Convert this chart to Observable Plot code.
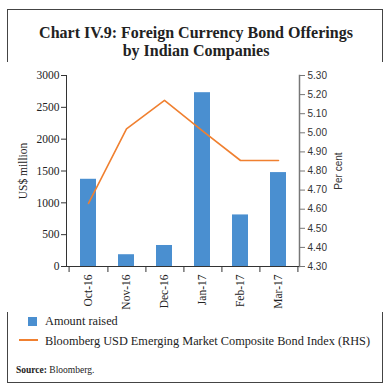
<!DOCTYPE html>
<html><head><meta charset="utf-8">
<script src="https://cdn.jsdelivr.net/npm/d3@7"></script>
<script src="https://cdn.jsdelivr.net/npm/@observablehq/plot@0.6"></script>
<style>
html,body{margin:0;padding:0;background:#fff;}
#wrap{position:relative;width:392px;height:389px;overflow:hidden;font-family:"Liberation Serif",serif;color:#222;}
#frame{position:absolute;left:7px;top:9px;width:374px;height:372px;border:1px solid #444;}
#title{position:absolute;left:0;top:24px;width:392px;text-align:center;font-weight:bold;font-size:16px;line-height:18px;color:#222;}
#chart{position:absolute;left:0;top:62px;}
.leg{position:absolute;font-size:12.3px;color:#222;white-space:nowrap;}
#source{position:absolute;left:16px;top:365px;font-size:9.5px;color:#222;}
</style></head>
<body><div id="wrap">
<div id="frame"></div>
<div id="title">Chart IV.9: Foreign Currency Bond Offerings<br>by Indian Companies</div>
<div id="chart"></div>
<div class="leg" style="left:28px;top:314px;"><span style="display:inline-block;width:9px;height:9px;background:#4a8fd0;vertical-align:-1px;margin-right:8px;"></span>Amount raised</div>
<div class="leg" style="left:19px;top:334px;"><span style="display:inline-block;width:19px;height:2px;background:#f08030;vertical-align:4px;margin-right:7px;"></span>Bloomberg USD Emerging Market Composite Bond Index (RHS)</div>
<div id="source"><b>Source:</b> Bloomberg.</div>
</div>
<script>
const months = ["Oct-16","Nov-16","Dec-16","Jan-17","Feb-17","Mar-17"];
const amountRaised = [1370, 185, 330, 2730, 810, 1475];
const bondIndex = [4.63, 5.02, 5.17, 5.01, 4.855, 4.855];
const leftTicks = [0,500,1000,1500,2000,2500,3000];
const rightTicks = [4.30,4.40,4.50,4.60,4.70,4.80,4.90,5.00,5.10,5.20,5.30];
const rightMin = 4.30, rightMax = 5.30, leftMax = 3000;

const toLeft = v => (v - rightMin) / (rightMax - rightMin) * leftMax;
const barData = months.map((m,i)=>({m, v: amountRaised[i]}));
const lineData = months.map((m,i)=>({m, v: toLeft(bondIndex[i])}));

const W = 392, H = 250, mL = 66, mR = 93, mT = 13, mB = 46;
const step = (W - mL - mR) / months.length;

const chart = Plot.plot({
  width: W, height: H,
  marginLeft: mL, marginRight: mR, marginTop: mT, marginBottom: mB,
  style: {fontFamily: "Liberation Serif, serif", fontSize: "11.5px", color: "#222", background: "#fff"},
  x: {domain: months, paddingInner: 0.58, paddingOuter: 0.29, axis: null},
  y: {domain: [0, leftMax], axis: null},
  marks: [
    Plot.barY(barData, {x: "m", y: "v", fill: "#4a8fd0"}),
    Plot.line(lineData, {x: "m", y: "v", stroke: "#f08030", strokeWidth: 1.6}),
    Plot.axisY(leftTicks, {anchor: "left", tickSize: 5, tickPadding: 2, stroke: "#333",
      tickFormat: d3.format("d"),
      label: "US$ million", labelAnchor: "center", labelArrow: "none", labelOffset: 48,
      fontSize: 11.5}),
    Plot.axisY(rightTicks.map(toLeft), {anchor: "right", tickSize: 5, tickPadding: 3, stroke: "#777",
      tickFormat: d => (d / leftMax * (rightMax - rightMin) + rightMin).toFixed(2),
      fontFamily: "Liberation Sans, sans-serif", fontSize: 10, fill: "#333",
      label: "Per cent", labelAnchor: "center", labelArrow: "none", labelOffset: 42}),
    Plot.axisX(months, {anchor: "bottom", tickSize: 0, tickRotate: -90, tickPadding: 8, fontSize: 11.5, label: null}),
    Plot.ruleX(months, {x: d => d, y1: 0, y2: 0, insetBottom: -6, dx: step / 2, stroke: "#333"}),
    Plot.ruleX(months.slice(0,1), {x: d => d, y1: 0, y2: 0, insetBottom: -6, dx: -step / 2, stroke: "#333"}),
    Plot.frame({anchor: "left", stroke: "#333"}),
    Plot.frame({anchor: "right", stroke: "#777", strokeWidth: 1.5}),
    Plot.ruleY([0], {stroke: "#333"})
  ]
});
document.getElementById("chart").appendChild(chart);
</script>
</body></html>
